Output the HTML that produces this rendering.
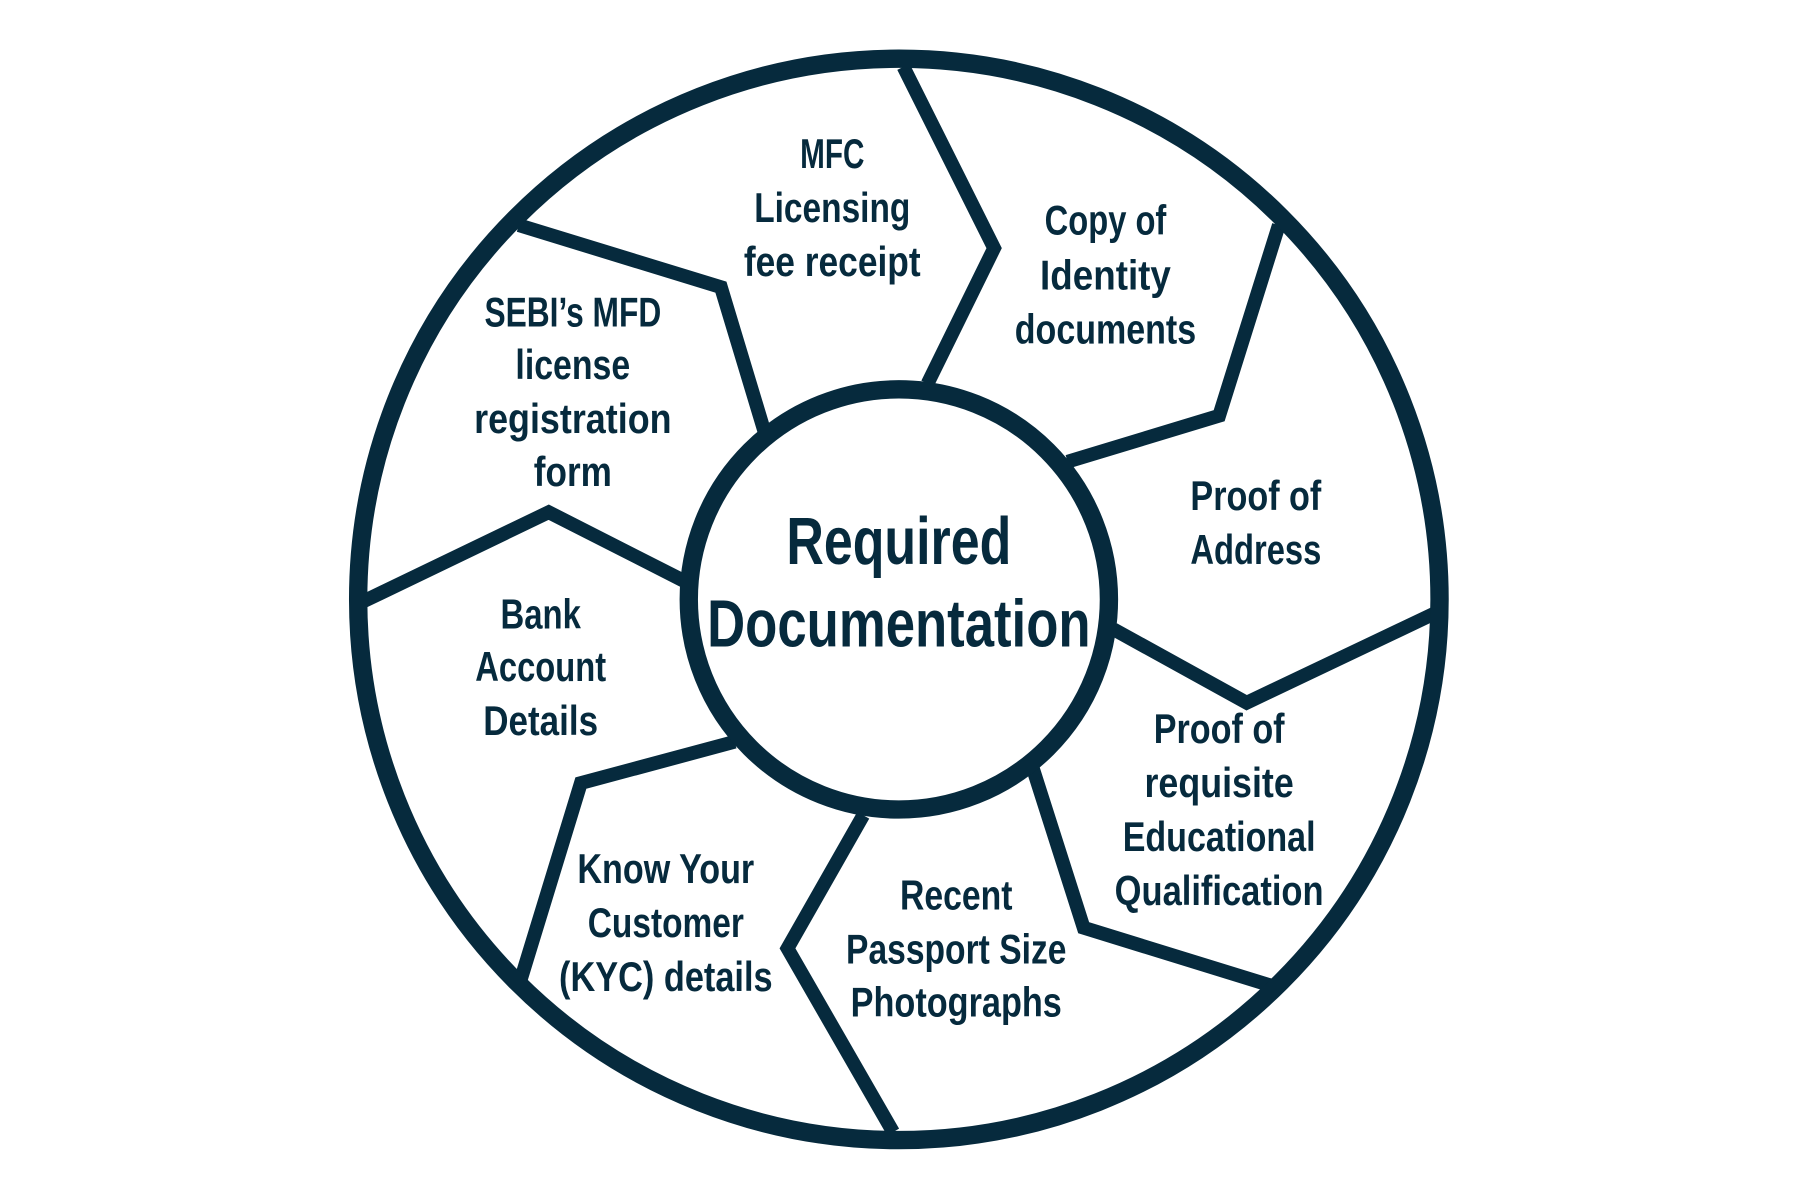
<!DOCTYPE html>
<html><head><meta charset="utf-8"><style>
html,body{margin:0;padding:0;background:#fff;width:1800px;height:1200px;overflow:hidden}
svg{display:block}
text{font-family:"Liberation Sans Narrow","Liberation Sans",sans-serif;font-weight:bold;fill:#062a3d;text-anchor:middle;dominant-baseline:central}
</style></head><body>
<svg width="1800" height="1200" viewBox="0 0 1568 1045" xmlns="http://www.w3.org/2000/svg">
<g fill="none" stroke="#062a3d" stroke-width="12" stroke-linejoin="miter">
<polyline points="787,58 866,216 808,334"/>
<polyline points="1114,196 1062,362 930,402"/>
<polyline points="1250,534 1086,612 970,548"/>
<polyline points="1106,858 944,808 900,670"/>
<polyline points="778,986 686,826 752,710"/>
<polyline points="454,852 506,682 640,646"/>
<polyline points="316,524 478,446 596,506"/>
<polyline points="452,196 628,250 666,376"/>
<circle cx="783" cy="522" r="471" stroke-width="16"/>
<circle cx="783" cy="522" r="183" stroke-width="16" fill="#fff"/>
</g>
<g font-size="36" lengthAdjust="spacingAndGlyphs">
<text x="725" y="134" textLength="56" lengthAdjust="spacingAndGlyphs">MFC</text><text x="725" y="181" textLength="136" lengthAdjust="spacingAndGlyphs">Licensing</text><text x="725" y="228" textLength="154" lengthAdjust="spacingAndGlyphs">fee receipt</text>
<text x="963" y="192" textLength="106" lengthAdjust="spacingAndGlyphs">Copy of</text><text x="963" y="240" textLength="114" lengthAdjust="spacingAndGlyphs">Identity</text><text x="963" y="287" textLength="158" lengthAdjust="spacingAndGlyphs">documents</text>
<text x="499" y="272" textLength="154" lengthAdjust="spacingAndGlyphs">SEBI’s MFD</text><text x="499" y="318" textLength="100" lengthAdjust="spacingAndGlyphs">license</text><text x="499" y="365" textLength="172" lengthAdjust="spacingAndGlyphs">registration</text><text x="499" y="411" textLength="68" lengthAdjust="spacingAndGlyphs">form</text>
<text x="1094" y="432" textLength="114" lengthAdjust="spacingAndGlyphs">Proof of</text><text x="1094" y="479" textLength="114" lengthAdjust="spacingAndGlyphs">Address</text>
<text x="471" y="535" textLength="70" lengthAdjust="spacingAndGlyphs">Bank</text><text x="471" y="581" textLength="114" lengthAdjust="spacingAndGlyphs">Account</text><text x="471" y="628" textLength="100" lengthAdjust="spacingAndGlyphs">Details</text>
<text x="1062" y="635" textLength="114" lengthAdjust="spacingAndGlyphs">Proof of</text><text x="1062" y="682" textLength="130" lengthAdjust="spacingAndGlyphs">requisite</text><text x="1062" y="729" textLength="168" lengthAdjust="spacingAndGlyphs">Educational</text><text x="1062" y="776" textLength="182" lengthAdjust="spacingAndGlyphs">Qualification</text>
<text x="580" y="757" textLength="154" lengthAdjust="spacingAndGlyphs">Know Your</text><text x="580" y="804" textLength="136" lengthAdjust="spacingAndGlyphs">Customer</text><text x="580" y="851" textLength="186" lengthAdjust="spacingAndGlyphs">(KYC) details</text>
<text x="833" y="780" textLength="98" lengthAdjust="spacingAndGlyphs">Recent</text><text x="833" y="827" textLength="192" lengthAdjust="spacingAndGlyphs">Passport Size</text><text x="833" y="873" textLength="184" lengthAdjust="spacingAndGlyphs">Photographs</text>
</g>
<g font-size="58">
<text x="783" y="472" textLength="196" lengthAdjust="spacingAndGlyphs">Required</text><text x="783" y="544" textLength="334" lengthAdjust="spacingAndGlyphs">Documentation</text>
</g>
</svg>
</body></html>
